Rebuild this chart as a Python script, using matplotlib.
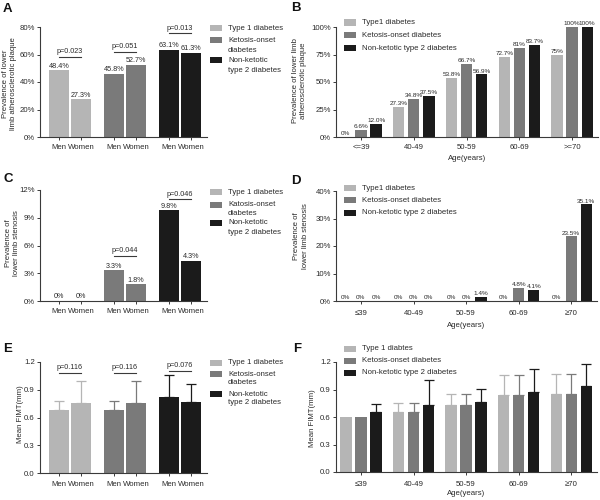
import matplotlib
matplotlib.use('Agg')
import matplotlib.pyplot as plt
from matplotlib.patches import Rectangle
from matplotlib.ticker import FuncFormatter
import numpy as np

plt.rcParams['font.family'] = ['Liberation Sans', 'DejaVu Sans']

# ---------------- data ----------------
sex_labels = ['Men', 'Women']
age_labels_B = ['<=39', '40-49', '50-59', '60-69', '>=70']
age_labels_DF = ['\u226439', '40-49', '50-59', '60-69', '\u226570']

# Panel A: prevalence of lower limb atherosclerotic plaque (%), [Men, Women]
A_type1 = [48.4, 27.3]
A_ketosis = [45.8, 52.7]
A_nonket = [63.1, 61.3]
A_pvalues = ['p=0.023', 'p=0.051', 'p=0.013']

# Panel B: by age group (%)
B_type1 = [0, 27.3, 53.8, 72.7, 75]
B_ketosis = [6.6, 34.8, 66.7, 81, 100]
B_nonket = [12.0, 37.5, 56.9, 83.7, 100]
B_type1_lbl = ['0%', '27.3%', '53.8%', '72.7%', '75%']
B_ketosis_lbl = ['6.6%', '34.8%', '66.7%', '81%', '100%']
B_nonket_lbl = ['12.0%', '37.5%', '56.9%', '83.7%', '100%']

# Panel C: prevalence of lower limb stenosis (%), [Men, Women]
C_type1 = [0, 0]
C_ketosis = [3.3, 1.8]
C_nonket = [9.8, 4.3]
C_pvalues = [None, 'p=0.044', 'p=0.046']

# Panel D: stenosis by age group (%)
D_type1 = [0, 0, 0, 0, 0]
D_ketosis = [0, 0, 0, 4.8, 23.5]
D_nonket = [0, 0, 1.4, 4.1, 35.1]

# Panel E: mean FIMT (mm), [Men, Women] and upper SD
E_type1 = [0.68, 0.76]
E_ketosis = [0.68, 0.76]
E_nonket = [0.82, 0.77]
E_type1_sd = [0.10, 0.23]
E_ketosis_sd = [0.10, 0.23]
E_nonket_sd = [0.24, 0.19]
E_pvalues = ['p=0.116', 'p=0.116', 'p=0.076']

# Panel F: mean FIMT by age group (mm) and upper SD
F_type1 = [0.60, 0.65, 0.73, 0.84, 0.85]
F_ketosis = [0.60, 0.65, 0.73, 0.84, 0.85]
F_nonket = [0.655, 0.73, 0.765, 0.873, 0.942]
F_type1_sd = [0.0, 0.10, 0.125, 0.22, 0.22]
F_ketosis_sd = [0.0, 0.10, 0.125, 0.22, 0.22]
F_nonket_sd = [0.09, 0.27, 0.14, 0.25, 0.24]

# ---------------- style ----------------
COLORS = ['#b5b5b5', '#7a7a7a', '#1b1b1b']
TXT = '#2a2a2a'
AXC = '#3a3a3a'
FS_TICK = 5.6
FS_LAB = 5.6
FS_LEG = 5.6
FS_BAR_SEX = 5.2
FS_BAR_AGE = 4.6

W, H = 600, 500
fig = plt.figure(figsize=(6, 5), dpi=100)


def axes_px(l, t, r, b):
    return fig.add_axes([l / W, 1 - b / H, (r - l) / W, (b - t) / H])


def fpx(x, y):
    return x / W, 1 - y / H


def style_axes(ax, ymax, yticks, fmt, xpad=3.0):
    for s in ['top', 'right']:
        ax.spines[s].set_visible(False)
    for s in ['left', 'bottom']:
        ax.spines[s].set_color(AXC)
        ax.spines[s].set_linewidth(0.8)
    ax.set_ylim(0, ymax)
    ax.set_yticks(yticks)
    ax.yaxis.set_major_formatter(FuncFormatter(fmt))
    ax.tick_params(axis='both', colors=AXC, labelcolor=TXT, labelsize=FS_TICK,
                   length=2.2, width=0.7)
    ax.tick_params(axis='y', pad=1.5)
    ax.tick_params(axis='x', pad=xpad)


def legend_px(x, rows, entries, fs=FS_LEG, line_h=10):
    # entries: list of (color, [lines]); rows: y px of first line centre
    for (col, lines), y in zip(entries, rows):
        fx, fy = fpx(x, y + 3)
        fig.add_artist(Rectangle((fx, fy), 12 / W, 6 / H, transform=fig.transFigure,
                                 facecolor=col, edgecolor='none'))
        for i, ln in enumerate(lines):
            tx, ty = fpx(x + 18, y + i * line_h)
            fig.text(tx, ty, ln, fontsize=fs, color=TXT, ha='left', va='center')


def sex_panel(ax, series, ymax, yticks, fmt, bar_fmt=None, sds=None,
              pvals=None, plines=None, xpad=2.6):
    gap = 2.45
    ticks = []
    for g, vals in enumerate(series):
        xs = g * gap + np.array([-0.5, 0.5])
        ticks += list(xs)
        ax.bar(xs, vals, width=0.9, color=COLORS[g], linewidth=0, zorder=2)
        if sds is not None:
            ax.errorbar(xs, vals, yerr=[np.zeros(2), sds[g]], fmt='none',
                        ecolor=COLORS[g], elinewidth=0.9, capsize=3.6,
                        capthick=0.9, zorder=1)
        if bar_fmt is not None:
            for x, v in zip(xs, vals):
                ax.annotate(bar_fmt(v), (x, v), xytext=(0, 0.6), textcoords='offset points',
                            ha='center', va='bottom', fontsize=FS_BAR_SEX, color=TXT)
        if pvals is not None and pvals[g] is not None:
            yl = plines[g]
            ax.plot(xs, [yl, yl], color=AXC, lw=0.8, clip_on=False)
            ax.annotate(pvals[g], (xs.mean(), yl), xytext=(0, 1.2), textcoords='offset points',
                        ha='center', va='bottom', fontsize=FS_BAR_SEX, color=TXT,
                        annotation_clip=False)
    ax.set_xticks(ticks)
    ax.set_xticklabels(sex_labels * 3)
    ax.set_xlim(-1.34, 6.11)
    style_axes(ax, ymax, yticks, fmt, xpad=xpad)


def age_panel(ax, series, labels, ymax, yticks, fmt, bar_lbls=None, sds=None,
              xpad=3.0, lpad=2.5):
    offs = [-0.286, 0.0, 0.286]
    x0 = np.arange(len(labels))
    for k, vals in enumerate(series):
        xs = x0 + offs[k]
        ax.bar(xs, vals, width=0.215, color=COLORS[k], linewidth=0, zorder=2)
        if sds is not None:
            sd = np.array(sds[k])
            m = sd > 0
            ax.errorbar(xs[m], np.array(vals)[m], yerr=[np.zeros(m.sum()), sd[m]], fmt='none',
                        ecolor=COLORS[k], elinewidth=0.9, capsize=3.6, capthick=0.9,
                        zorder=1)
        if bar_lbls is not None:
            for x, v, t in zip(xs, vals, bar_lbls[k]):
                ax.annotate(t, (x, v), xytext=(0, 0.6), textcoords='offset points',
                            ha='center', va='bottom', fontsize=FS_BAR_AGE, color=TXT,
                            annotation_clip=False)
    ax.set_xticks(x0)
    ax.set_xticklabels(labels)
    ax.set_xlim(-0.474, 4.49)
    style_axes(ax, ymax, yticks, fmt, xpad=xpad)
    ax.set_xlabel('Age(years)', fontsize=FS_LAB, color=TXT, labelpad=lpad)


pct = lambda v, p: f'{v:.0f}%'
dec = lambda v, p: f'{v:.1f}'

# ---------------- Panel A ----------------
axA = axes_px(40, 27, 207, 137)
sex_panel(axA, [A_type1, A_ketosis, A_nonket], 80, [0, 20, 40, 60, 80], pct,
          bar_fmt=lambda v: f'{v:.1f}%', pvals=A_pvalues, plines=[58.2, 62.0, 75.4])

# ---------------- Panel B ----------------
axB = axes_px(336, 27, 598, 137)
age_panel(axB, [B_type1, B_ketosis, B_nonket], age_labels_B, 100, [0, 25, 50, 75, 100], pct,
          bar_lbls=[B_type1_lbl, B_ketosis_lbl, B_nonket_lbl], xpad=2.6, lpad=3.0)

# ---------------- Panel C ----------------
axC = axes_px(40, 190, 207, 301)
sex_panel(axC, [C_type1, C_ketosis, C_nonket], 12, [0, 3, 6, 9, 12], pct,
          bar_fmt=lambda v: (f'{v:.1f}%' if v > 0 else '0%'), pvals=C_pvalues,
          plines=[None, 4.9, 11.0], xpad=3.0)

# ---------------- Panel D ----------------
axD = axes_px(336, 191, 597, 301)
D_lbls = [[(f'{v:.1f}%' if v > 0 else '0%') for v in s] for s in [D_type1, D_ketosis, D_nonket]]
age_panel(axD, [D_type1, D_ketosis, D_nonket], age_labels_DF, 40, [0, 10, 20, 30, 40], pct,
          bar_lbls=D_lbls, xpad=4.2, lpad=3.5)

# ---------------- Panel E ----------------
axE = axes_px(40, 362, 207, 473)
sex_panel(axE, [E_type1, E_ketosis, E_nonket], 1.2, [0, 0.3, 0.6, 0.9, 1.2], dec,
          sds=[E_type1_sd, E_ketosis_sd, E_nonket_sd], pvals=E_pvalues,
          plines=[1.085, 1.085, 1.105], xpad=3.2)

# ---------------- Panel F ----------------
axF = axes_px(336, 362, 597, 472)
age_panel(axF, [F_type1, F_ketosis, F_nonket], age_labels_DF, 1.2, [0, 0.3, 0.6, 0.9, 1.2], dec,
          sds=[F_type1_sd, F_ketosis_sd, F_nonket_sd], xpad=4.2, lpad=1.5)

# ---------------- legends ----------------
legend_px(210, [28, 40, 60], [(COLORS[0], ['Type 1 diabetes']),
                              (COLORS[1], ['Ketosis-onset', 'diabetes']),
                              (COLORS[2], ['Non-ketotic', 'type 2 diabetes'])])
legend_px(210, [192, 205, 223], [(COLORS[0], ['Type 1 diabetes']),
                                 (COLORS[1], ['Katosis-onset', 'diabetes']),
                                 (COLORS[2], ['Non-ketotic', 'type 2 diabetes'])], line_h=9)
legend_px(210, [363, 374, 394], [(COLORS[0], ['Type 1 diabetes']),
                                 (COLORS[1], ['Ketosis-onset', 'diabetes']),
                                 (COLORS[2], ['Non-ketotic', 'type 2 diabetes'])], line_h=9)
legend_px(344, [22.5, 35, 48], [(COLORS[0], ['Type1 diabetes']),
                                (COLORS[1], ['Ketosis-onset diabetes']),
                                (COLORS[2], ['Non-ketotic type 2 diabetes'])])
legend_px(344, [188, 200, 212.5], [(COLORS[0], ['Type1 diabetes']),
                                   (COLORS[1], ['Ketosis-onset diabetes']),
                                   (COLORS[2], ['Non-ketotic type 2 diabetes'])])
legend_px(344, [349, 360.5, 372.5], [(COLORS[0], ['Type 1 diabtes']),
                                     (COLORS[1], ['Ketosis-onset diabetes']),
                                     (COLORS[2], ['Non-ketotic type 2 diabetes'])])

# ---------------- y labels ----------------
def ylab(x, y, text):
    fx, fy = fpx(x, y)
    fig.text(fx, fy, text, rotation=90, ha='center', va='center', fontsize=FS_LAB,
             color=TXT, multialignment='center', linespacing=1.25)

ylab(9.5, 84, 'Prevalence of lower\nlimb atherosclerotic plaque')
ylab(299.5, 81, 'Prevalence of lower limb\natherosclerotic plaque')
ylab(12.5, 243, 'Prevalence of\nlower limb stenosis')
ylab(301, 236, 'Prevalence of\nlower limb stenosis')
ylab(20, 414, 'Mean FIMT(mm)')
ylab(313, 418, 'Mean FIMT(mm)')

# ---------------- panel letters ----------------
for letter, (x, y) in zip('ABCDEF', [(3, 9), (291, 8), (3, 179), (291, 181), (3, 349), (293, 349)]):
    fx, fy = fpx(x, y)
    fig.text(fx, fy, letter, fontsize=9.5, fontweight='bold', color='#111111',
             ha='left', va='center')

fig.savefig('out.png', dpi=100)
